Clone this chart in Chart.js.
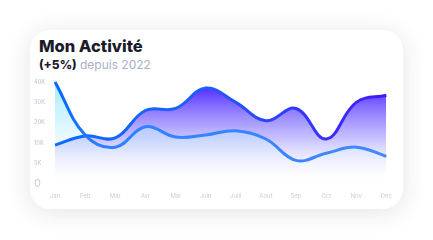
<!DOCTYPE html>
<html>
<head>
<meta charset="utf-8">
<script src="https://cdn.jsdelivr.net/npm/chart.js@4/dist/chart.umd.min.js"></script>
<style>
  html, body { margin: 0; padding: 0; background: #fff; }
  body { width: 433px; height: 240px; position: relative; overflow: hidden; font-family: "Inter", "DejaVu Sans", sans-serif; }
  .card {
    position: absolute; left: 30px; top: 30px; width: 373px; height: 179px;
    background: #fff; border-radius: 20px;
    box-shadow: 0 3px 24px rgba(30, 40, 70, 0.13);
  }
  .title { position: absolute; left: 39px; top: 36px; font-size: 16.5px; font-weight: 800; color: #1b1b2b; letter-spacing: 0px; }
  .sub { position: absolute; left: 39px; top: 57px; font-size: 12px; color: #a7b1c8; }
  .sub b { color: #1b1b2b; font-weight: 800; }
  .wrap { position: absolute; left: 29px; top: 74px; width: 372px; height: 135px; }
</style>
</head>
<body>
<div class="card"></div>
<div class="title">Mon Activité</div>
<div class="sub"><b>(+5%)</b> depuis 2022</div>
<div class="wrap"><canvas id="mygrafico"></canvas></div>
<script>
const months = ["Jan", "Feb", "Mar", "Avr", "Mai", "Juin", "Juill", "Aout", "Sep", "Oct", "Nov", "Dec"];
// values on the axis scale (0..50, one tick step = 10)
const serieCyan = [50, 24, 18, 28, 23, 24, 26, 22, 11.5, 15, 18, 13.5];
const seriePurple = [19, 23.5, 22.5, 36, 37, 47, 40, 31, 37, 22, 40, 43.5];
const yTicks = ["0", "5K", "10K", "20K", "30K", "40K"];

function vGrad(chart, stops) {
  const area = chart.chartArea;
  if (!area) return null;
  const g = chart.ctx.createLinearGradient(0, area.top, 0, area.bottom);
  stops.forEach(s => g.addColorStop(s[0], s[1]));
  return g;
}
function hGrad(chart, stops) {
  const area = chart.chartArea;
  if (!area) return null;
  const g = chart.ctx.createLinearGradient(area.left, 0, area.right, 0);
  stops.forEach(s => g.addColorStop(s[0], s[1]));
  return g;
}

const config = {
  type: "line",
  data: {
    labels: months,
    datasets: [
      {
        label: "A",
        data: serieCyan,
        borderWidth: 3,
        tension: 0.4,
        pointRadius: 0,
        clip: 6,
        fill: "origin",
        borderColor: c => hGrad(c.chart, [[0, "#0066ff"], [0.14, "#2f80ff"], [1, "#4189ff"]]),
        backgroundColor: c => vGrad(c.chart, [[0, "rgba(150,232,255,0.9)"], [0.5, "rgba(195,240,255,0.45)"], [1, "rgba(255,255,255,0)"]]),
      },
      {
        label: "B",
        data: seriePurple,
        borderWidth: 3,
        tension: 0.4,
        pointRadius: 0,
        clip: 6,
        fill: "origin",
        borderColor: c => hGrad(c.chart, [[0, "#0a6cff"], [0.45, "#1f5cff"], [1, "#4318ff"]]),
        backgroundColor: c => vGrad(c.chart, [[0, "rgba(67,24,255,1)"], [0.55, "rgba(150,140,255,0.55)"], [1, "rgba(255,255,255,0)"]]),
      },
    ],
  },
  options: {
    responsive: true,
    maintainAspectRatio: false,
    animation: false,
    layout: { padding: { left: 5, right: 6, top: 8, bottom: 0 } },
    plugins: {
      legend: { display: false },
      tooltip: { enabled: false },
      filler: { drawTime: "beforeDatasetsDraw" },
    },
    scales: {
      x: {
        grid: { display: false, drawTicks: false },
        border: { display: false },
        ticks: { color: "#c9d0dc", font: { size: 6, family: "Inter" }, padding: 9, maxRotation: 0, autoSkip: false },
      },
      y: {
        min: 0,
        max: 50,
        afterFit: s => { s.width = 21; },
        grid: { display: false, drawTicks: false },
        border: { display: false },
        ticks: {
          stepSize: 10,
          crossAlign: "far",
          color: "#c9d0dc",
          font: c => c.tick && c.tick.value === 0 ? { size: 11, family: "Inter" } : { size: 5.5, family: "Inter", weight: "600" },
          callback: v => yTicks[v / 10],
        },
      },
    },
  },
};

const myChart = new Chart(document.getElementById("mygrafico"), config);
</script>
</body>
</html>
